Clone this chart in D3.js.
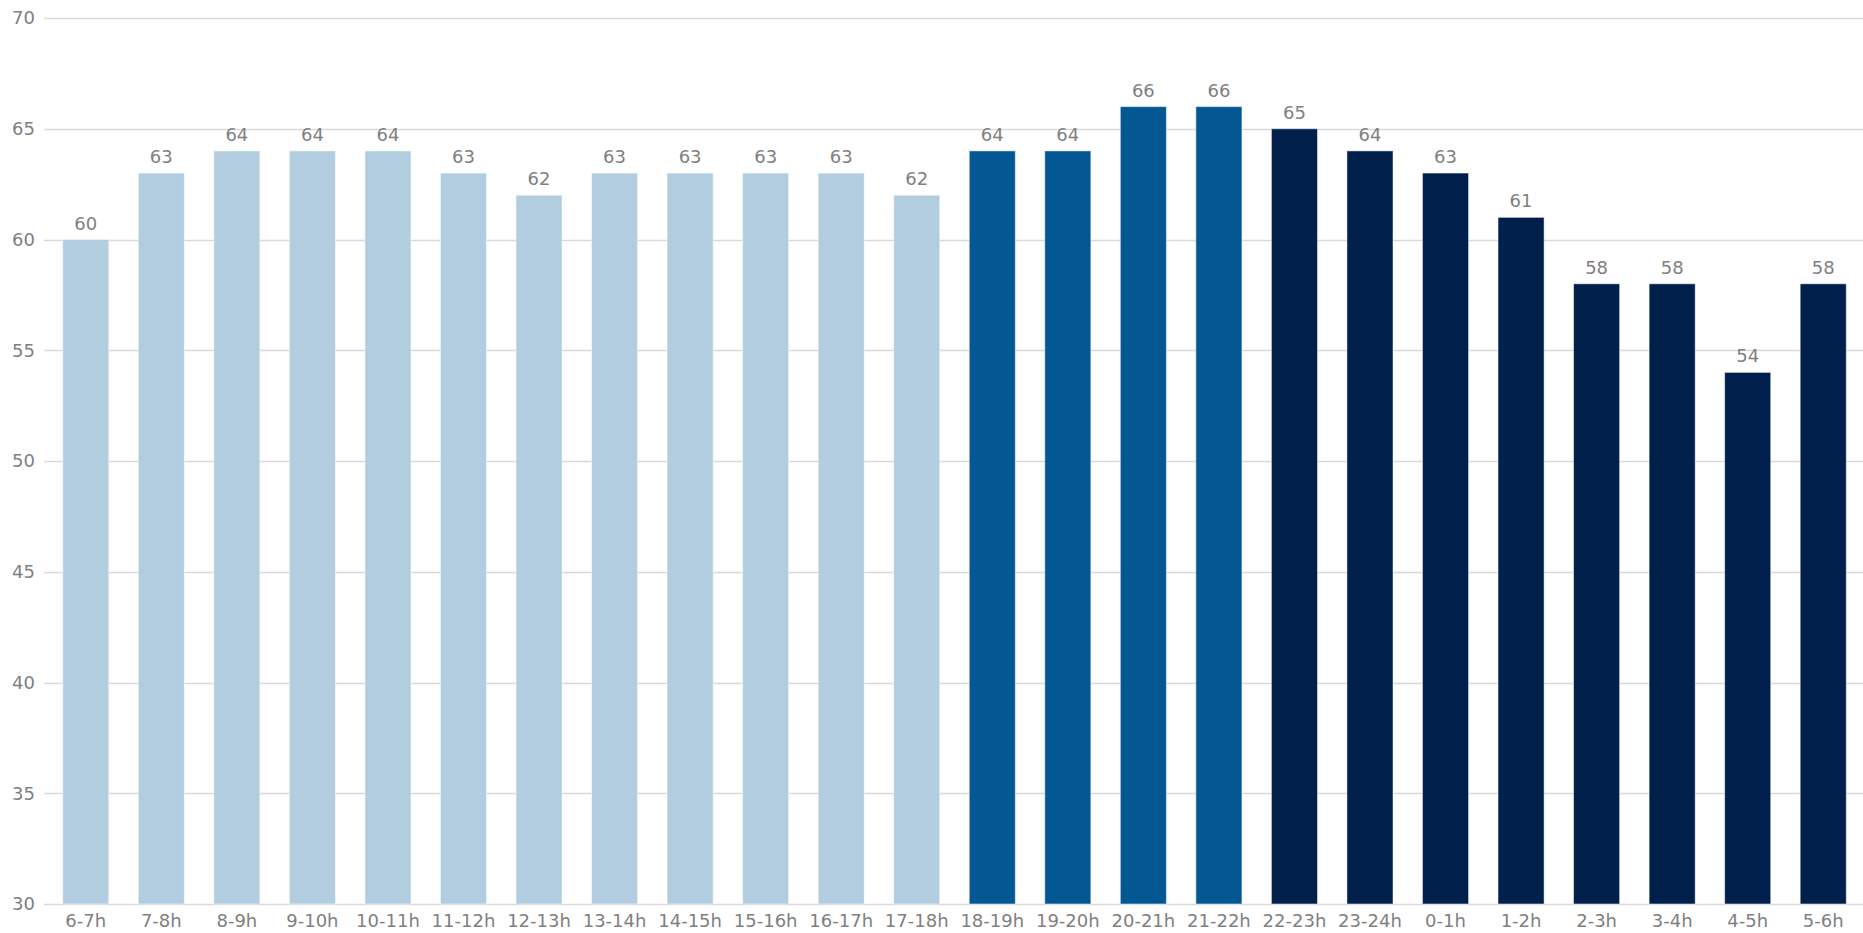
<!DOCTYPE html>
<html>
<head>
<meta charset="utf-8">
<script src="https://cdn.jsdelivr.net/npm/d3@7"></script>
<style>
  html, body { margin: 0; padding: 0; background: #fff; }
  svg { display: block; font-family: "DejaVu Sans", sans-serif; }
</style>
</head>
<body>
<svg id="chart"></svg>
<script>
const hours = ["6-7h", "7-8h", "8-9h", "9-10h", "10-11h", "11-12h", "12-13h", "13-14h",
  "14-15h", "15-16h", "16-17h", "17-18h", "18-19h", "19-20h", "20-21h", "21-22h",
  "22-23h", "23-24h", "0-1h", "1-2h", "2-3h", "3-4h", "4-5h", "5-6h"]
const values = [60, 63, 64, 64, 64, 63, 62, 63, 63, 63, 63, 62, 64, 64, 66, 66, 65, 64, 63, 61, 58, 58, 54, 58]
const groups = ["day", "day", "day", "day", "day", "day", "day", "day", "day", "day", "day", "day",
  "evening", "evening", "evening", "evening",
  "night", "night", "night", "night", "night", "night", "night", "night"]
const yTicks = [30, 35, 40, 45, 50, 55, 60, 65, 70]

const width = 1863
const height = 933
const margin = { top: 18, right: 2, bottom: 29, left: 44 }

const color = d3.scaleOrdinal()
  .domain(["day", "evening", "night"])
  .range(["#b3cde0", "#035893", "#001f4b"])

const svg = d3.select("#chart")
  .attr("width", width)
  .attr("height", height)

const x = d3.scaleBand()
  .domain(hours)
  .range([48, width - margin.right])
  .paddingInner(0.39)
  .paddingOuter(0.195)

const y = d3.scaleLinear()
  .domain([30, 70])
  .range([height - margin.bottom, margin.top])

// gridlines + y labels
svg.append("g")
  .selectAll("line")
  .data(yTicks)
  .enter()
  .append("line")
  .attr("x1", margin.left)
  .attr("x2", width)
  .attr("y1", (d) => Math.round(y(d)) + 0.5)
  .attr("y2", (d) => Math.round(y(d)) + 0.5)
  .attr("stroke", "#d9d9d9")
  .attr("stroke-width", 1.3)

svg.append("g")
  .selectAll("text")
  .data(yTicks)
  .enter()
  .append("text")
  .attr("x", 35)
  .attr("y", (d) => y(d))
  .attr("dy", "0.36em")
  .attr("text-anchor", "end")
  .attr("fill", "#808080")
  .style("font-size", "18px")
  .text((d) => d)

// bars
svg.append("g")
  .selectAll("rect")
  .data(values)
  .enter()
  .append("rect")
  .attr("x", (d, i) => x(hours[i]))
  .attr("y", (d) => y(d))
  .attr("width", x.bandwidth())
  .attr("height", (d) => y(30) - y(d))
  .attr("fill", (d, i) => color(groups[i]))
  .attr("stroke", "#ffffff")
  .attr("stroke-opacity", 0.5)
  .attr("stroke-width", 1)

// value labels
svg.append("g")
  .selectAll("text")
  .data(values)
  .enter()
  .append("text")
  .attr("x", (d, i) => x(hours[i]) + x.bandwidth() / 2)
  .attr("y", (d) => y(d) - 10)
  .attr("text-anchor", "middle")
  .attr("fill", "#808080")
  .style("font-size", "18px")
  .text((d) => d)

// x axis labels
svg.append("g")
  .attr("transform", `translate(0,${y(30)})`)
  .call(d3.axisBottom(x).tickSize(0).tickPadding(10))
  .call((g) => g.select(".domain").remove())
  .selectAll("text")
  .attr("fill", "#808080")
  .style("font-size", "18px")
  .style("font-family", "DejaVu Sans, sans-serif")
</script>
</body>
</html>
